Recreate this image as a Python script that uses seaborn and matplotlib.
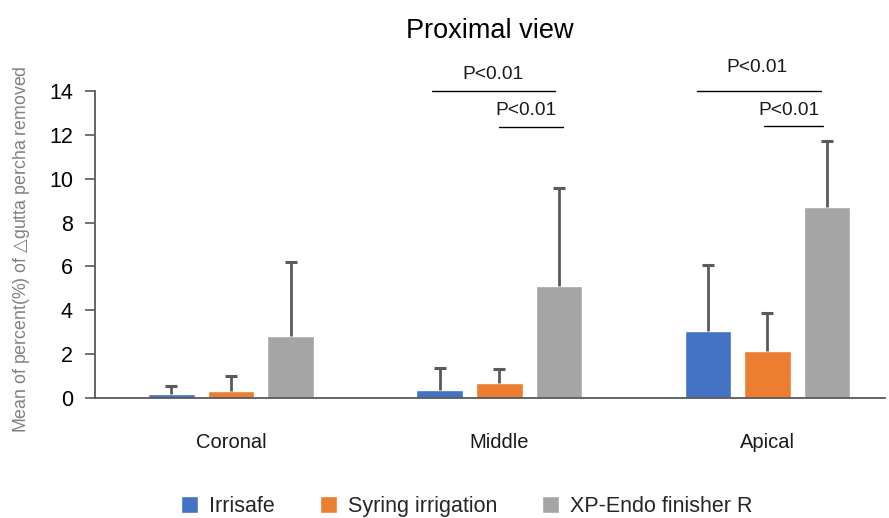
import matplotlib
matplotlib.use("Agg")
import matplotlib.pyplot as plt
import seaborn as sns
import pandas as pd
import numpy as np

# Mean percentage of gutta percha removed, with standard deviations
regions = ["Coronal", "Middle", "Apical"]
techniques = ["Irrisafe", "Syring irrigation", "XP-Endo finisher R"]
irrisafe_mean = [0.17, 0.38, 3.07]
syring_mean = [0.30, 0.70, 2.14]
xpendo_mean = [2.81, 5.09, 8.71]
irrisafe_sd = [0.36, 0.97, 2.99]
syring_sd = [0.69, 0.62, 1.74]
xpendo_sd = [3.39, 4.47, 3.01]
yticks = [0, 2, 4, 6, 8, 10, 12, 14]

palette = ["#4472C4", "#ED7D31", "#A5A5A5"]
err_color = "#5A5A5A"
axis_color = "#595959"

means = [irrisafe_mean, syring_mean, xpendo_mean]
sds = [irrisafe_sd, syring_sd, xpendo_sd]
rows = []
for t, m_list, s_list in zip(techniques, means, sds):
    for r, m, s in zip(regions, m_list, s_list):
        rows.append({"Region": r, "Technique": t, "Mean": m, "SD": s})
df = pd.DataFrame(rows)

sns.set_theme(style="white")
plt.rcParams["font.family"] = ["Liberation Sans", "DejaVu Sans"]

fig = plt.figure(figsize=(8.89, 5.18), dpi=100)
ax = fig.add_axes([0.107, 0.2317, 0.889, 0.5927])

sns.barplot(data=df, x="Region", y="Mean", hue="Technique", order=regions,
            hue_order=techniques, palette=palette, errorbar=None,
            width=0.667, gap=0.22, saturation=1, ax=ax, legend=True)

# Upward-only error bars placed on the drawn bars
bars = [p for p in ax.patches if p.get_height() > 0]
bars = sorted(bars, key=lambda p: p.get_x())
xs = np.array([p.get_x() + p.get_width() / 2 for p in bars])
hs = np.array([p.get_height() for p in bars])
lookup = {(r, t): s for r, t, s in zip(df["Region"], df["Technique"], df["SD"])}
order_pairs = [(r, t) for r in regions for t in techniques]
errs = np.array([lookup[pair] for pair in order_pairs])
ax.errorbar(xs, hs, yerr=[np.zeros(len(errs)), errs], fmt="none",
            ecolor=err_color, elinewidth=2, capsize=0, zorder=5)
ax.plot(xs, hs + errs, linestyle="none", marker="_", markersize=9,
        markeredgewidth=2.2, color=err_color, zorder=6)

ax.set_ylim(0, 14)
ax.set_xlim(-0.507, 2.44)
ax.set_yticks(yticks)
ax.set_yticklabels([str(v) for v in yticks], fontsize=15.5, color="#000000")
ax.tick_params(axis="y", direction="out", length=7, width=1.2, color=axis_color, pad=9, left=True)
ax.tick_params(axis="x", length=0, pad=25, labelsize=14.5, labelcolor="#1a1a1a")
ax.set_xlabel("")
ax.set_ylabel("Mean of percent(%) of $\\bigtriangleup$gutta percha removed",
              fontsize=12.8, color="#808080", labelpad=12)
ax.yaxis.set_label_coords(-0.080, 0.485)
for side in ["top", "right"]:
    ax.spines[side].set_visible(False)
for side in ["left", "bottom"]:
    ax.spines[side].set_color(axis_color)
    ax.spines[side].set_linewidth(1.3)

ax.set_title("Proximal view", fontsize=19.5, pad=38, color="#000000")

# Significance brackets
def bracket(x0, x1, y, ty, tx):
    ax.plot([x0, x1], [y, y], color="#000000", lw=1, clip_on=False)
    ax.text(tx, ty, "P<0.01", ha="center", va="center", fontsize=13.8,
            color="#1a1a1a", clip_on=False)

bracket(0.75, 1.209, 14.0, 14.73, 0.975)
bracket(1.0, 1.239, 12.36, 13.13, 1.10)
bracket(1.739, 2.201, 14.0, 15.05, 1.96)
bracket(1.989, 2.209, 12.4, 13.13, 2.08)

handles, labels = ax.get_legend_handles_labels()
ax.get_legend().remove()
fig.legend(handles, labels, loc="center", bbox_to_anchor=(0.525, 0.022), ncol=3,
           frameon=False, fontsize=15.5, handlelength=0.8, handleheight=0.8,
           columnspacing=2.1, handletextpad=0.5)

fig.savefig("out.png", dpi=100)
